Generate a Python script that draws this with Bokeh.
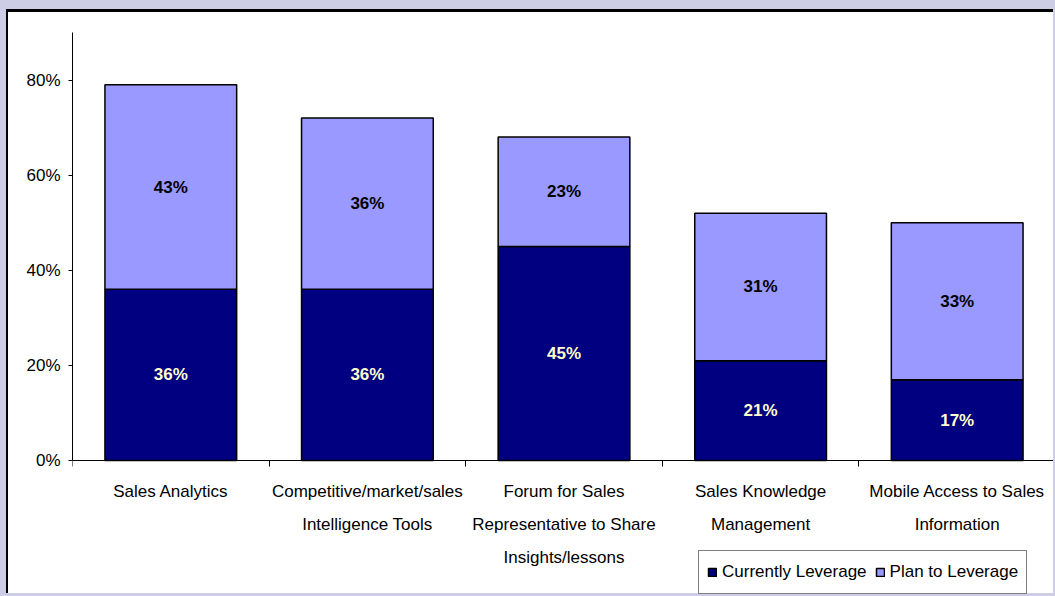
from bokeh.plotting import figure
from bokeh.models import (ColumnDataSource, FixedTicker, LinearAxis,
                          Range1d, PrintfTickFormatter, GlobalInlineStyleSheet)
from bokeh.core.properties import value
from bokeh.embed import file_html
from bokeh.resources import INLINE

# ---- data ----
categories = [
    "Sales Analytics",
    "Competitive/market/sales\nIntelligence Tools",
    "Forum for Sales\nRepresentative to Share\nInsights/lessons",
    "Sales Knowledge\nManagement",
    "Mobile Access to Sales\nInformation",
]
currently_leverage = [36, 36, 45, 21, 17]
plan_to_leverage = [43, 36, 23, 31, 33]
series_names = ["Currently Leverage", "Plan to Leverage"]
y_ticks = [0, 20, 40, 60, 80]
y_max = 90

FONT = "Liberation Sans"
FS = "17px"
NAVY = "#000080"
LAV = "#9999FF"

n = len(categories)
idx = list(range(n))

src = ColumnDataSource(dict(
    x=idx,
    currently=currently_leverage,
    plan=plan_to_leverage,
    cur_mid=[c / 2 for c in currently_leverage],
    plan_mid=[c + p / 2 for c, p in zip(currently_leverage, plan_to_leverage)],
    cur_lbl=[f"{c}%" for c in currently_leverage],
    plan_lbl=[f"{p}%" for p in plan_to_leverage],
))

# frame extends to the bottom of the canvas so the legend (below the axis) is visible
y_bottom = -28.6

p = figure(x_range=Range1d(-0.5, n - 0.5), y_range=Range1d(y_bottom, y_max),
           width=1047, height=584, output_backend="svg", toolbar_location=None,
           x_axis_location=None, y_axis_location=None,
           min_border_left=64, min_border_right=0, min_border_top=20, min_border_bottom=0,
           border_fill_color=None, background_fill_color=None,
           outline_line_color=None)

p.styles = {"margin-left": "6px", "margin-top": "9px", "background-color": "white",
            "border-top": "3px solid black", "border-left": "2px solid black"}
p.stylesheets = [GlobalInlineStyleSheet(
    css="html, body { margin: 0; padding: 0; background-color: #CDCDE6; overflow: hidden; }")]

p.grid.visible = False

# y axis, line limited to the 0..90 span
ya = LinearAxis(ticker=FixedTicker(ticks=y_ticks),
                formatter=PrintfTickFormatter(format="%d%%"),
                bounds=(0, y_max),
                minor_tick_line_color=None, major_tick_in=0, major_tick_out=4,
                major_label_standoff=8, axis_line_color="black",
                major_tick_line_color="black", major_label_text_font=FONT,
                major_label_text_font_size=FS, major_label_text_color="black")
p.add_layout(ya, "left")

# x axis at y = 0: tick marks at category boundaries
edges = [i - 0.5 for i in range(n + 1)]
edge_axis = LinearAxis(ticker=FixedTicker(ticks=edges), fixed_location=0,
                       major_label_overrides={e: "" for e in edges},
                       major_label_text_font_size="0px", major_label_standoff=0,
                       major_tick_in=0, major_tick_out=6,
                       minor_tick_line_color=None,
                       axis_line_color="black", major_tick_line_color="black")
p.add_layout(edge_axis, "below")

# category names at bar centres
label_axis = LinearAxis(ticker=FixedTicker(ticks=idx), fixed_location=0,
                        major_label_overrides={i: c for i, c in zip(idx, categories)},
                        axis_line_color=None, major_tick_line_color=None,
                        minor_tick_line_color=None, major_tick_in=0, major_tick_out=0,
                        major_label_standoff=22,
                        major_label_text_font=FONT, major_label_text_font_size=FS,
                        major_label_text_color="black",
                        major_label_text_line_height=1.72)
p.add_layout(label_axis, "below")

# bars
p.vbar_stack(["currently", "plan"], x="x", width=0.67, source=src,
             color=[NAVY, LAV], line_color="black", line_width=1.5,
             legend_label=series_names)

# value labels
p.text(x="x", y="cur_mid", text="cur_lbl", source=src, text_align="center",
       text_baseline="middle", text_color="#FFFFCC", text_font=value(FONT),
       text_font_size=FS, text_font_style="bold")
p.text(x="x", y="plan_mid", text="plan_lbl", source=src, text_align="center",
       text_baseline="middle", text_color="black", text_font=value(FONT),
       text_font_size=FS, text_font_style="bold")

# legend
leg = p.legend[0]
leg.orientation = "horizontal"
leg.location = (626, 2)
leg.margin = 0
leg.padding = 8
leg.spacing = 8
leg.label_standoff = 5
leg.glyph_width = 10
leg.glyph_height = 10
leg.label_height = 26
leg.label_text_font = FONT
leg.label_text_font_size = FS
leg.label_text_color = "black"
leg.border_line_color = "black"
leg.border_line_width = 1
leg.background_fill_color = "white"
leg.background_fill_alpha = 1

open("out.html", "w").write(file_html(p, INLINE))
